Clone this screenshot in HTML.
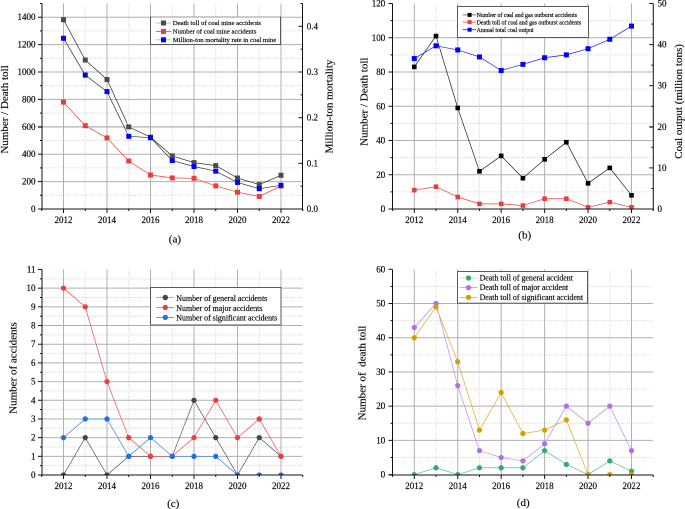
<!DOCTYPE html>
<html><head><meta charset="utf-8"><style>
html,body{margin:0;padding:0;background:#fff;width:685px;height:509px;overflow:hidden}
#c{width:685px;height:509px;overflow:hidden;position:relative}
#w{position:absolute;left:0;top:0;width:1370px;height:1018px;transform:scale(0.5);transform-origin:0 0;will-change:transform}
svg{display:block}
text{font-family:"Liberation Serif", serif;fill:#111;stroke:#111;stroke-width:0.2px}
</style></head><body>
<div id="c"><div id="w"><svg width="1370" height="1018" viewBox="0 0 685 509">
<rect width="685" height="509" fill="#fff"/>

<line x1="43" y1="195.3" x2="302.5" y2="195.3" stroke="#dadada" stroke-width="1" stroke-dasharray="1,1"/>
<line x1="43" y1="167.9" x2="302.5" y2="167.9" stroke="#dadada" stroke-width="1" stroke-dasharray="1,1"/>
<line x1="43" y1="140.5" x2="302.5" y2="140.5" stroke="#dadada" stroke-width="1" stroke-dasharray="1,1"/>
<line x1="43" y1="113.1" x2="302.5" y2="113.1" stroke="#dadada" stroke-width="1" stroke-dasharray="1,1"/>
<line x1="43" y1="85.7" x2="302.5" y2="85.7" stroke="#dadada" stroke-width="1" stroke-dasharray="1,1"/>
<line x1="43" y1="58.3" x2="302.5" y2="58.3" stroke="#dadada" stroke-width="1" stroke-dasharray="1,1"/>
<line x1="43" y1="30.9" x2="302.5" y2="30.9" stroke="#dadada" stroke-width="1" stroke-dasharray="1,1"/>
<line x1="85.25" y1="4" x2="85.25" y2="209" stroke="#dadada" stroke-width="1" stroke-dasharray="1,1"/>
<line x1="128.75" y1="4" x2="128.75" y2="209" stroke="#dadada" stroke-width="1" stroke-dasharray="1,1"/>
<line x1="172.25" y1="4" x2="172.25" y2="209" stroke="#dadada" stroke-width="1" stroke-dasharray="1,1"/>
<line x1="215.75" y1="4" x2="215.75" y2="209" stroke="#dadada" stroke-width="1" stroke-dasharray="1,1"/>
<line x1="259.25" y1="4" x2="259.25" y2="209" stroke="#dadada" stroke-width="1" stroke-dasharray="1,1"/>
<line x1="42" y1="181.6" x2="302.5" y2="181.6" stroke="#b0b0b0" stroke-width="1"/>
<line x1="42" y1="154.2" x2="302.5" y2="154.2" stroke="#b0b0b0" stroke-width="1"/>
<line x1="42" y1="126.8" x2="302.5" y2="126.8" stroke="#b0b0b0" stroke-width="1"/>
<line x1="42" y1="99.4" x2="302.5" y2="99.4" stroke="#b0b0b0" stroke-width="1"/>
<line x1="42" y1="72" x2="302.5" y2="72" stroke="#b0b0b0" stroke-width="1"/>
<line x1="42" y1="44.6" x2="302.5" y2="44.6" stroke="#b0b0b0" stroke-width="1"/>
<line x1="42" y1="17.2" x2="302.5" y2="17.2" stroke="#b0b0b0" stroke-width="1"/>
<line x1="63.5" y1="3.5" x2="63.5" y2="209" stroke="#b0b0b0" stroke-width="1"/>
<line x1="107" y1="3.5" x2="107" y2="209" stroke="#b0b0b0" stroke-width="1"/>
<line x1="150.5" y1="3.5" x2="150.5" y2="209" stroke="#b0b0b0" stroke-width="1"/>
<line x1="194" y1="3.5" x2="194" y2="209" stroke="#b0b0b0" stroke-width="1"/>
<line x1="237.5" y1="3.5" x2="237.5" y2="209" stroke="#b0b0b0" stroke-width="1"/>
<line x1="281" y1="3.5" x2="281" y2="209" stroke="#b0b0b0" stroke-width="1"/>
<clipPath id="ca"><rect x="42" y="-0.5" width="260.5" height="209.5"/></clipPath>
<clipPath id="la"><rect x="42" y="-0.5" width="260.5" height="209"/></clipPath>
<g clip-path="url(#ca)">
<polyline clip-path="url(#la)" points="63.5,19.7 85.25,60 107,79.5 128.75,126.9 150.5,137.2 172.25,155.9 194,162.6 215.75,165.6 237.5,178 259.25,184.6 281,175.3" fill="none" stroke="#333" stroke-width="0.7"/>
<rect x="61" y="17.2" width="5" height="5" fill="#4a4a4a"/>
<rect x="82.75" y="57.5" width="5" height="5" fill="#4a4a4a"/>
<rect x="104.5" y="77" width="5" height="5" fill="#4a4a4a"/>
<rect x="126.25" y="124.4" width="5" height="5" fill="#4a4a4a"/>
<rect x="148" y="134.7" width="5" height="5" fill="#4a4a4a"/>
<rect x="169.75" y="153.4" width="5" height="5" fill="#4a4a4a"/>
<rect x="191.5" y="160.1" width="5" height="5" fill="#4a4a4a"/>
<rect x="213.25" y="163.1" width="5" height="5" fill="#4a4a4a"/>
<rect x="235" y="175.5" width="5" height="5" fill="#4a4a4a"/>
<rect x="256.75" y="182.1" width="5" height="5" fill="#4a4a4a"/>
<rect x="278.5" y="172.8" width="5" height="5" fill="#4a4a4a"/>
<polyline clip-path="url(#la)" points="63.5,102.1 85.25,125.7 107,137.9 128.75,161 150.5,175 172.25,177.9 194,178.3 215.75,185.9 237.5,192.2 259.25,196.5 281,186" fill="none" stroke="#f03c3c" stroke-width="0.7"/>
<rect x="61" y="99.6" width="5" height="5" fill="#ee3b3b"/>
<rect x="82.75" y="123.2" width="5" height="5" fill="#ee3b3b"/>
<rect x="104.5" y="135.4" width="5" height="5" fill="#ee3b3b"/>
<rect x="126.25" y="158.5" width="5" height="5" fill="#ee3b3b"/>
<rect x="148" y="172.5" width="5" height="5" fill="#ee3b3b"/>
<rect x="169.75" y="175.4" width="5" height="5" fill="#ee3b3b"/>
<rect x="191.5" y="175.8" width="5" height="5" fill="#ee3b3b"/>
<rect x="213.25" y="183.4" width="5" height="5" fill="#ee3b3b"/>
<rect x="235" y="189.7" width="5" height="5" fill="#ee3b3b"/>
<rect x="256.75" y="194" width="5" height="5" fill="#ee3b3b"/>
<rect x="278.5" y="183.5" width="5" height="5" fill="#ee3b3b"/>
<polyline clip-path="url(#la)" points="63.5,38.3 85.25,75.1 107,91.6 128.75,136.3 150.5,137.7 172.25,160.6 194,166.5 215.75,171.2 237.5,182.4 259.25,188.7 281,185.3" fill="none" stroke="#333" stroke-width="0.7"/>
<rect x="61" y="35.8" width="5" height="5" fill="#0000ff"/>
<rect x="82.75" y="72.6" width="5" height="5" fill="#0000ff"/>
<rect x="104.5" y="89.1" width="5" height="5" fill="#0000ff"/>
<rect x="126.25" y="133.8" width="5" height="5" fill="#0000ff"/>
<rect x="148" y="135.2" width="5" height="5" fill="#0000ff"/>
<rect x="169.75" y="158.1" width="5" height="5" fill="#0000ff"/>
<rect x="191.5" y="164" width="5" height="5" fill="#0000ff"/>
<rect x="213.25" y="168.7" width="5" height="5" fill="#0000ff"/>
<rect x="235" y="179.9" width="5" height="5" fill="#0000ff"/>
<rect x="256.75" y="186.2" width="5" height="5" fill="#0000ff"/>
<rect x="278.5" y="182.8" width="5" height="5" fill="#0000ff"/>
</g>
<line x1="42" y1="3.5" x2="42" y2="210" stroke="#111" stroke-width="1"/>
<line x1="38" y1="209" x2="302.5" y2="209" stroke="#111" stroke-width="1"/>
<line x1="38" y1="209" x2="42" y2="209" stroke="#111" stroke-width="1"/>
<text x="35.5" y="212" text-anchor="end" font-size="9">0</text>
<line x1="40" y1="195.3" x2="42" y2="195.3" stroke="#111" stroke-width="1"/>
<line x1="38" y1="181.6" x2="42" y2="181.6" stroke="#111" stroke-width="1"/>
<text x="35.5" y="184.6" text-anchor="end" font-size="9">200</text>
<line x1="40" y1="167.9" x2="42" y2="167.9" stroke="#111" stroke-width="1"/>
<line x1="38" y1="154.2" x2="42" y2="154.2" stroke="#111" stroke-width="1"/>
<text x="35.5" y="157.2" text-anchor="end" font-size="9">400</text>
<line x1="40" y1="140.5" x2="42" y2="140.5" stroke="#111" stroke-width="1"/>
<line x1="38" y1="126.8" x2="42" y2="126.8" stroke="#111" stroke-width="1"/>
<text x="35.5" y="129.8" text-anchor="end" font-size="9">600</text>
<line x1="40" y1="113.1" x2="42" y2="113.1" stroke="#111" stroke-width="1"/>
<line x1="38" y1="99.4" x2="42" y2="99.4" stroke="#111" stroke-width="1"/>
<text x="35.5" y="102.4" text-anchor="end" font-size="9">800</text>
<line x1="40" y1="85.7" x2="42" y2="85.7" stroke="#111" stroke-width="1"/>
<line x1="38" y1="72" x2="42" y2="72" stroke="#111" stroke-width="1"/>
<text x="35.5" y="75" text-anchor="end" font-size="9">1000</text>
<line x1="40" y1="58.3" x2="42" y2="58.3" stroke="#111" stroke-width="1"/>
<line x1="38" y1="44.6" x2="42" y2="44.6" stroke="#111" stroke-width="1"/>
<text x="35.5" y="47.6" text-anchor="end" font-size="9">1200</text>
<line x1="40" y1="30.9" x2="42" y2="30.9" stroke="#111" stroke-width="1"/>
<line x1="38" y1="17.2" x2="42" y2="17.2" stroke="#111" stroke-width="1"/>
<text x="35.5" y="20.2" text-anchor="end" font-size="9">1400</text>
<line x1="40" y1="3.5" x2="42" y2="3.5" stroke="#111" stroke-width="1"/>
<line x1="41.75" y1="209" x2="41.75" y2="211" stroke="#111" stroke-width="1"/>
<line x1="63.5" y1="209" x2="63.5" y2="213" stroke="#111" stroke-width="1"/>
<text x="63.5" y="223" text-anchor="middle" font-size="9">2012</text>
<line x1="85.25" y1="209" x2="85.25" y2="211" stroke="#111" stroke-width="1"/>
<line x1="107" y1="209" x2="107" y2="213" stroke="#111" stroke-width="1"/>
<text x="107" y="223" text-anchor="middle" font-size="9">2014</text>
<line x1="128.75" y1="209" x2="128.75" y2="211" stroke="#111" stroke-width="1"/>
<line x1="150.5" y1="209" x2="150.5" y2="213" stroke="#111" stroke-width="1"/>
<text x="150.5" y="223" text-anchor="middle" font-size="9">2016</text>
<line x1="172.25" y1="209" x2="172.25" y2="211" stroke="#111" stroke-width="1"/>
<line x1="194" y1="209" x2="194" y2="213" stroke="#111" stroke-width="1"/>
<text x="194" y="223" text-anchor="middle" font-size="9">2018</text>
<line x1="215.75" y1="209" x2="215.75" y2="211" stroke="#111" stroke-width="1"/>
<line x1="237.5" y1="209" x2="237.5" y2="213" stroke="#111" stroke-width="1"/>
<text x="237.5" y="223" text-anchor="middle" font-size="9">2020</text>
<line x1="259.25" y1="209" x2="259.25" y2="211" stroke="#111" stroke-width="1"/>
<line x1="281" y1="209" x2="281" y2="213" stroke="#111" stroke-width="1"/>
<text x="281" y="223" text-anchor="middle" font-size="9">2022</text>
<line x1="302.75" y1="209" x2="302.75" y2="211" stroke="#111" stroke-width="1"/>
<line x1="302.5" y1="3.5" x2="302.5" y2="210.5" stroke="#111" stroke-width="1"/>
<line x1="298.5" y1="209" x2="302.5" y2="209" stroke="#111" stroke-width="1"/>
<text x="306.8" y="212" font-size="9">0.0</text>
<line x1="300.5" y1="186.17" x2="302.5" y2="186.17" stroke="#111" stroke-width="1"/>
<line x1="298.5" y1="163.33" x2="302.5" y2="163.33" stroke="#111" stroke-width="1"/>
<text x="306.8" y="166.33" font-size="9">0.1</text>
<line x1="300.5" y1="140.5" x2="302.5" y2="140.5" stroke="#111" stroke-width="1"/>
<line x1="298.5" y1="117.67" x2="302.5" y2="117.67" stroke="#111" stroke-width="1"/>
<text x="306.8" y="120.67" font-size="9">0.2</text>
<line x1="300.5" y1="94.83" x2="302.5" y2="94.83" stroke="#111" stroke-width="1"/>
<line x1="298.5" y1="72" x2="302.5" y2="72" stroke="#111" stroke-width="1"/>
<text x="306.8" y="75" font-size="9">0.3</text>
<line x1="300.5" y1="49.17" x2="302.5" y2="49.17" stroke="#111" stroke-width="1"/>
<line x1="298.5" y1="26.33" x2="302.5" y2="26.33" stroke="#111" stroke-width="1"/>
<text x="306.8" y="29.33" font-size="9">0.4</text>
<line x1="300.5" y1="3.5" x2="302.5" y2="3.5" stroke="#111" stroke-width="1"/>
<text transform="translate(332.5,106.5) rotate(-90)" text-anchor="middle" font-size="11">Million-ton mortality</text>
<text transform="translate(7.8,109.5) rotate(-90)" text-anchor="middle" font-size="11" xml:space="preserve">Number / Death toll</text>
<text x="174.9" y="242.4" text-anchor="middle" font-size="11">(a)</text>
<rect x="150.5" y="17" width="130" height="27.5" fill="#fff" stroke="#5a5a5a" stroke-width="1"/>
<line x1="151" y1="17" x2="280" y2="17" stroke="#9a9a9a" stroke-width="1"/>
<line x1="155.9" y1="23" x2="171" y2="23" stroke="#aaa" stroke-width="0.8"/>
<rect x="161" y="20.5" width="5" height="5" fill="#4a4a4a"/>
<text x="172.8" y="25.21" font-size="6.7">Death toll of coal mine accidents</text>
<line x1="155.9" y1="31.4" x2="171" y2="31.4" stroke="#f03c3c" stroke-width="0.8"/>
<rect x="161" y="28.9" width="5" height="5" fill="#ee3b3b"/>
<text x="172.8" y="33.61" font-size="6.7">Number of coal mine accidents</text>
<line x1="155.9" y1="39.8" x2="171" y2="39.8" stroke="#aaa" stroke-width="0.8"/>
<rect x="161" y="37.3" width="5" height="5" fill="#0000ff"/>
<text x="172.8" y="42.01" font-size="6.7">Million-ton mortality rate in coal mine</text>
<line x1="393" y1="191.88" x2="653.3" y2="191.88" stroke="#dadada" stroke-width="1" stroke-dasharray="1,1"/>
<line x1="393" y1="157.62" x2="653.3" y2="157.62" stroke="#dadada" stroke-width="1" stroke-dasharray="1,1"/>
<line x1="393" y1="123.38" x2="653.3" y2="123.38" stroke="#dadada" stroke-width="1" stroke-dasharray="1,1"/>
<line x1="393" y1="89.12" x2="653.3" y2="89.12" stroke="#dadada" stroke-width="1" stroke-dasharray="1,1"/>
<line x1="393" y1="54.88" x2="653.3" y2="54.88" stroke="#dadada" stroke-width="1" stroke-dasharray="1,1"/>
<line x1="393" y1="20.62" x2="653.3" y2="20.62" stroke="#dadada" stroke-width="1" stroke-dasharray="1,1"/>
<line x1="436.02" y1="4" x2="436.02" y2="209" stroke="#dadada" stroke-width="1" stroke-dasharray="1,1"/>
<line x1="479.46" y1="4" x2="479.46" y2="209" stroke="#dadada" stroke-width="1" stroke-dasharray="1,1"/>
<line x1="522.9" y1="4" x2="522.9" y2="209" stroke="#dadada" stroke-width="1" stroke-dasharray="1,1"/>
<line x1="566.34" y1="4" x2="566.34" y2="209" stroke="#dadada" stroke-width="1" stroke-dasharray="1,1"/>
<line x1="609.78" y1="4" x2="609.78" y2="209" stroke="#dadada" stroke-width="1" stroke-dasharray="1,1"/>
<line x1="392.5" y1="174.75" x2="653.3" y2="174.75" stroke="#b0b0b0" stroke-width="1"/>
<line x1="392.5" y1="140.5" x2="653.3" y2="140.5" stroke="#b0b0b0" stroke-width="1"/>
<line x1="392.5" y1="106.25" x2="653.3" y2="106.25" stroke="#b0b0b0" stroke-width="1"/>
<line x1="392.5" y1="72" x2="653.3" y2="72" stroke="#b0b0b0" stroke-width="1"/>
<line x1="392.5" y1="37.75" x2="653.3" y2="37.75" stroke="#b0b0b0" stroke-width="1"/>
<line x1="414.3" y1="3.5" x2="414.3" y2="209" stroke="#b0b0b0" stroke-width="1"/>
<line x1="457.74" y1="3.5" x2="457.74" y2="209" stroke="#b0b0b0" stroke-width="1"/>
<line x1="501.18" y1="3.5" x2="501.18" y2="209" stroke="#b0b0b0" stroke-width="1"/>
<line x1="544.62" y1="3.5" x2="544.62" y2="209" stroke="#b0b0b0" stroke-width="1"/>
<line x1="588.06" y1="3.5" x2="588.06" y2="209" stroke="#b0b0b0" stroke-width="1"/>
<line x1="631.5" y1="3.5" x2="631.5" y2="209" stroke="#b0b0b0" stroke-width="1"/>
<clipPath id="cb"><rect x="392.5" y="-0.5" width="260.8" height="209.5"/></clipPath>
<clipPath id="lb"><rect x="392.5" y="-0.5" width="260.8" height="209"/></clipPath>
<g clip-path="url(#cb)">
<polyline clip-path="url(#lb)" points="414.3,66.86 436.02,36.04 457.74,107.96 479.46,171.32 501.18,155.91 522.9,178.18 544.62,159.34 566.34,142.21 588.06,183.31 609.78,167.9 631.5,195.3" fill="none" stroke="#222" stroke-width="0.7"/>
<rect x="412" y="64.56" width="4.6" height="4.6" fill="#000"/>
<rect x="433.72" y="33.74" width="4.6" height="4.6" fill="#000"/>
<rect x="455.44" y="105.66" width="4.6" height="4.6" fill="#000"/>
<rect x="477.16" y="169.02" width="4.6" height="4.6" fill="#000"/>
<rect x="498.88" y="153.61" width="4.6" height="4.6" fill="#000"/>
<rect x="520.6" y="175.88" width="4.6" height="4.6" fill="#000"/>
<rect x="542.32" y="157.04" width="4.6" height="4.6" fill="#000"/>
<rect x="564.04" y="139.91" width="4.6" height="4.6" fill="#000"/>
<rect x="585.76" y="181.01" width="4.6" height="4.6" fill="#000"/>
<rect x="607.48" y="165.6" width="4.6" height="4.6" fill="#000"/>
<rect x="629.2" y="193" width="4.6" height="4.6" fill="#000"/>
<polyline clip-path="url(#lb)" points="414.3,190.16 436.02,186.74 457.74,197.01 479.46,203.86 501.18,203.86 522.9,205.57 544.62,198.72 566.34,198.72 588.06,207.29 609.78,202.15 631.5,207.29" fill="none" stroke="#f03c3c" stroke-width="0.7"/>
<rect x="412" y="187.86" width="4.6" height="4.6" fill="#ee3b3b"/>
<rect x="433.72" y="184.44" width="4.6" height="4.6" fill="#ee3b3b"/>
<rect x="455.44" y="194.71" width="4.6" height="4.6" fill="#ee3b3b"/>
<rect x="477.16" y="201.56" width="4.6" height="4.6" fill="#ee3b3b"/>
<rect x="498.88" y="201.56" width="4.6" height="4.6" fill="#ee3b3b"/>
<rect x="520.6" y="203.27" width="4.6" height="4.6" fill="#ee3b3b"/>
<rect x="542.32" y="196.42" width="4.6" height="4.6" fill="#ee3b3b"/>
<rect x="564.04" y="196.42" width="4.6" height="4.6" fill="#ee3b3b"/>
<rect x="585.76" y="204.99" width="4.6" height="4.6" fill="#ee3b3b"/>
<rect x="607.48" y="199.85" width="4.6" height="4.6" fill="#ee3b3b"/>
<rect x="629.2" y="204.99" width="4.6" height="4.6" fill="#ee3b3b"/>
<polyline clip-path="url(#lb)" points="414.3,58.57 436.02,45.83 457.74,49.94 479.46,56.93 501.18,70.49 522.9,64.33 544.62,57.75 566.34,54.88 588.06,48.71 609.78,39.26 631.5,26.1" fill="none" stroke="#1a1aff" stroke-width="0.7"/>
<rect x="411.8" y="56.07" width="5" height="5" fill="#0000ff"/>
<rect x="433.52" y="43.33" width="5" height="5" fill="#0000ff"/>
<rect x="455.24" y="47.44" width="5" height="5" fill="#0000ff"/>
<rect x="476.96" y="54.43" width="5" height="5" fill="#0000ff"/>
<rect x="498.68" y="67.99" width="5" height="5" fill="#0000ff"/>
<rect x="520.4" y="61.83" width="5" height="5" fill="#0000ff"/>
<rect x="542.12" y="55.25" width="5" height="5" fill="#0000ff"/>
<rect x="563.84" y="52.38" width="5" height="5" fill="#0000ff"/>
<rect x="585.56" y="46.21" width="5" height="5" fill="#0000ff"/>
<rect x="607.28" y="36.76" width="5" height="5" fill="#0000ff"/>
<rect x="629" y="23.6" width="5" height="5" fill="#0000ff"/>
</g>
<line x1="392.5" y1="3.5" x2="392.5" y2="210" stroke="#111" stroke-width="1"/>
<line x1="388.5" y1="209" x2="653.3" y2="209" stroke="#111" stroke-width="1"/>
<line x1="388.5" y1="209" x2="392.5" y2="209" stroke="#111" stroke-width="1"/>
<text x="385.3" y="212" text-anchor="end" font-size="9">0</text>
<line x1="390.5" y1="191.88" x2="392.5" y2="191.88" stroke="#111" stroke-width="1"/>
<line x1="388.5" y1="174.75" x2="392.5" y2="174.75" stroke="#111" stroke-width="1"/>
<text x="385.3" y="177.75" text-anchor="end" font-size="9">20</text>
<line x1="390.5" y1="157.62" x2="392.5" y2="157.62" stroke="#111" stroke-width="1"/>
<line x1="388.5" y1="140.5" x2="392.5" y2="140.5" stroke="#111" stroke-width="1"/>
<text x="385.3" y="143.5" text-anchor="end" font-size="9">40</text>
<line x1="390.5" y1="123.38" x2="392.5" y2="123.38" stroke="#111" stroke-width="1"/>
<line x1="388.5" y1="106.25" x2="392.5" y2="106.25" stroke="#111" stroke-width="1"/>
<text x="385.3" y="109.25" text-anchor="end" font-size="9">60</text>
<line x1="390.5" y1="89.12" x2="392.5" y2="89.12" stroke="#111" stroke-width="1"/>
<line x1="388.5" y1="72" x2="392.5" y2="72" stroke="#111" stroke-width="1"/>
<text x="385.3" y="75" text-anchor="end" font-size="9">80</text>
<line x1="390.5" y1="54.88" x2="392.5" y2="54.88" stroke="#111" stroke-width="1"/>
<line x1="388.5" y1="37.75" x2="392.5" y2="37.75" stroke="#111" stroke-width="1"/>
<text x="385.3" y="40.75" text-anchor="end" font-size="9">100</text>
<line x1="390.5" y1="20.62" x2="392.5" y2="20.62" stroke="#111" stroke-width="1"/>
<line x1="388.5" y1="3.5" x2="392.5" y2="3.5" stroke="#111" stroke-width="1"/>
<text x="385.3" y="6.5" text-anchor="end" font-size="9">120</text>
<line x1="392.58" y1="209" x2="392.58" y2="211" stroke="#111" stroke-width="1"/>
<line x1="414.3" y1="209" x2="414.3" y2="213" stroke="#111" stroke-width="1"/>
<text x="414.3" y="223" text-anchor="middle" font-size="9">2012</text>
<line x1="436.02" y1="209" x2="436.02" y2="211" stroke="#111" stroke-width="1"/>
<line x1="457.74" y1="209" x2="457.74" y2="213" stroke="#111" stroke-width="1"/>
<text x="457.74" y="223" text-anchor="middle" font-size="9">2014</text>
<line x1="479.46" y1="209" x2="479.46" y2="211" stroke="#111" stroke-width="1"/>
<line x1="501.18" y1="209" x2="501.18" y2="213" stroke="#111" stroke-width="1"/>
<text x="501.18" y="223" text-anchor="middle" font-size="9">2016</text>
<line x1="522.9" y1="209" x2="522.9" y2="211" stroke="#111" stroke-width="1"/>
<line x1="544.62" y1="209" x2="544.62" y2="213" stroke="#111" stroke-width="1"/>
<text x="544.62" y="223" text-anchor="middle" font-size="9">2018</text>
<line x1="566.34" y1="209" x2="566.34" y2="211" stroke="#111" stroke-width="1"/>
<line x1="588.06" y1="209" x2="588.06" y2="213" stroke="#111" stroke-width="1"/>
<text x="588.06" y="223" text-anchor="middle" font-size="9">2020</text>
<line x1="609.78" y1="209" x2="609.78" y2="211" stroke="#111" stroke-width="1"/>
<line x1="631.5" y1="209" x2="631.5" y2="213" stroke="#111" stroke-width="1"/>
<text x="631.5" y="223" text-anchor="middle" font-size="9">2022</text>
<line x1="653.22" y1="209" x2="653.22" y2="211" stroke="#111" stroke-width="1"/>
<line x1="653.3" y1="3.5" x2="653.3" y2="210.5" stroke="#111" stroke-width="1"/>
<line x1="649.3" y1="209" x2="653.3" y2="209" stroke="#111" stroke-width="1"/>
<text x="657.5" y="212" font-size="9">0</text>
<line x1="651.3" y1="188.45" x2="653.3" y2="188.45" stroke="#111" stroke-width="1"/>
<line x1="649.3" y1="167.9" x2="653.3" y2="167.9" stroke="#111" stroke-width="1"/>
<text x="657.5" y="170.9" font-size="9">10</text>
<line x1="651.3" y1="147.35" x2="653.3" y2="147.35" stroke="#111" stroke-width="1"/>
<line x1="649.3" y1="126.8" x2="653.3" y2="126.8" stroke="#111" stroke-width="1"/>
<text x="657.5" y="129.8" font-size="9">20</text>
<line x1="651.3" y1="106.25" x2="653.3" y2="106.25" stroke="#111" stroke-width="1"/>
<line x1="649.3" y1="85.7" x2="653.3" y2="85.7" stroke="#111" stroke-width="1"/>
<text x="657.5" y="88.7" font-size="9">30</text>
<line x1="651.3" y1="65.15" x2="653.3" y2="65.15" stroke="#111" stroke-width="1"/>
<line x1="649.3" y1="44.6" x2="653.3" y2="44.6" stroke="#111" stroke-width="1"/>
<text x="657.5" y="47.6" font-size="9">40</text>
<line x1="651.3" y1="24.05" x2="653.3" y2="24.05" stroke="#111" stroke-width="1"/>
<line x1="649.3" y1="3.5" x2="653.3" y2="3.5" stroke="#111" stroke-width="1"/>
<text x="657.5" y="6.5" font-size="9">50</text>
<text transform="translate(682,101.4) rotate(-90)" text-anchor="middle" font-size="11">Coal output (million tons)</text>
<text transform="translate(367.7,101.7) rotate(-90)" text-anchor="middle" font-size="11" xml:space="preserve">Number / Death toll</text>
<text x="524.7" y="238.5" text-anchor="middle" font-size="11">(b)</text>
<rect x="457.5" y="6.5" width="131" height="31" fill="#fff" stroke="#5a5a5a" stroke-width="1"/>
<line x1="462.8" y1="14.9" x2="476.2" y2="14.9" stroke="#555" stroke-width="0.8"/>
<rect x="467.6" y="12.9" width="4" height="4" fill="#000"/>
<text x="476.6" y="17.15" font-size="5.9">Number of coal and gas outburst accidents</text>
<line x1="462.8" y1="22.1" x2="476.2" y2="22.1" stroke="#f03c3c" stroke-width="0.8"/>
<rect x="467.6" y="20.1" width="4" height="4" fill="#ee3b3b"/>
<text x="476.6" y="24.35" font-size="5.9">Death toll of coal and gas outburst accidents</text>
<line x1="462.8" y1="29.7" x2="476.2" y2="29.7" stroke="#1a1aff" stroke-width="0.8"/>
<rect x="467.6" y="27.7" width="4" height="4" fill="#0000ff"/>
<text x="476.6" y="31.95" font-size="5.9">Annual total coal output</text>
<line x1="43" y1="465.66" x2="302.5" y2="465.66" stroke="#dadada" stroke-width="1" stroke-dasharray="1,1"/>
<line x1="43" y1="446.98" x2="302.5" y2="446.98" stroke="#dadada" stroke-width="1" stroke-dasharray="1,1"/>
<line x1="43" y1="428.3" x2="302.5" y2="428.3" stroke="#dadada" stroke-width="1" stroke-dasharray="1,1"/>
<line x1="43" y1="409.61" x2="302.5" y2="409.61" stroke="#dadada" stroke-width="1" stroke-dasharray="1,1"/>
<line x1="43" y1="390.93" x2="302.5" y2="390.93" stroke="#dadada" stroke-width="1" stroke-dasharray="1,1"/>
<line x1="43" y1="372.25" x2="302.5" y2="372.25" stroke="#dadada" stroke-width="1" stroke-dasharray="1,1"/>
<line x1="43" y1="353.57" x2="302.5" y2="353.57" stroke="#dadada" stroke-width="1" stroke-dasharray="1,1"/>
<line x1="43" y1="334.89" x2="302.5" y2="334.89" stroke="#dadada" stroke-width="1" stroke-dasharray="1,1"/>
<line x1="43" y1="316.2" x2="302.5" y2="316.2" stroke="#dadada" stroke-width="1" stroke-dasharray="1,1"/>
<line x1="43" y1="297.52" x2="302.5" y2="297.52" stroke="#dadada" stroke-width="1" stroke-dasharray="1,1"/>
<line x1="43" y1="278.84" x2="302.5" y2="278.84" stroke="#dadada" stroke-width="1" stroke-dasharray="1,1"/>
<line x1="85.25" y1="270" x2="85.25" y2="475" stroke="#dadada" stroke-width="1" stroke-dasharray="1,1"/>
<line x1="128.75" y1="270" x2="128.75" y2="475" stroke="#dadada" stroke-width="1" stroke-dasharray="1,1"/>
<line x1="172.25" y1="270" x2="172.25" y2="475" stroke="#dadada" stroke-width="1" stroke-dasharray="1,1"/>
<line x1="215.75" y1="270" x2="215.75" y2="475" stroke="#dadada" stroke-width="1" stroke-dasharray="1,1"/>
<line x1="259.25" y1="270" x2="259.25" y2="475" stroke="#dadada" stroke-width="1" stroke-dasharray="1,1"/>
<line x1="42" y1="456.32" x2="302.5" y2="456.32" stroke="#b0b0b0" stroke-width="1"/>
<line x1="42" y1="437.64" x2="302.5" y2="437.64" stroke="#b0b0b0" stroke-width="1"/>
<line x1="42" y1="418.95" x2="302.5" y2="418.95" stroke="#b0b0b0" stroke-width="1"/>
<line x1="42" y1="400.27" x2="302.5" y2="400.27" stroke="#b0b0b0" stroke-width="1"/>
<line x1="42" y1="381.59" x2="302.5" y2="381.59" stroke="#b0b0b0" stroke-width="1"/>
<line x1="42" y1="362.91" x2="302.5" y2="362.91" stroke="#b0b0b0" stroke-width="1"/>
<line x1="42" y1="344.23" x2="302.5" y2="344.23" stroke="#b0b0b0" stroke-width="1"/>
<line x1="42" y1="325.55" x2="302.5" y2="325.55" stroke="#b0b0b0" stroke-width="1"/>
<line x1="42" y1="306.86" x2="302.5" y2="306.86" stroke="#b0b0b0" stroke-width="1"/>
<line x1="42" y1="288.18" x2="302.5" y2="288.18" stroke="#b0b0b0" stroke-width="1"/>
<line x1="63.5" y1="269.5" x2="63.5" y2="475" stroke="#b0b0b0" stroke-width="1"/>
<line x1="107" y1="269.5" x2="107" y2="475" stroke="#b0b0b0" stroke-width="1"/>
<line x1="150.5" y1="269.5" x2="150.5" y2="475" stroke="#b0b0b0" stroke-width="1"/>
<line x1="194" y1="269.5" x2="194" y2="475" stroke="#b0b0b0" stroke-width="1"/>
<line x1="237.5" y1="269.5" x2="237.5" y2="475" stroke="#b0b0b0" stroke-width="1"/>
<line x1="281" y1="269.5" x2="281" y2="475" stroke="#b0b0b0" stroke-width="1"/>
<clipPath id="cc"><rect x="42" y="265.5" width="260.5" height="209.5"/></clipPath>
<clipPath id="lc"><rect x="42" y="265.5" width="260.5" height="209"/></clipPath>
<g clip-path="url(#cc)">
<polyline clip-path="url(#lc)" points="63.5,475 85.25,437.64 107,475 128.75,456.32 150.5,456.32 172.25,456.32 194,400.27 215.75,437.64 237.5,475 259.25,437.64 281,456.32" fill="none" stroke="#555" stroke-width="0.7"/>
<circle cx="63.5" cy="475" r="2.65" fill="#454545"/>
<circle cx="85.25" cy="437.64" r="2.65" fill="#454545"/>
<circle cx="107" cy="475" r="2.65" fill="#454545"/>
<circle cx="128.75" cy="456.32" r="2.65" fill="#454545"/>
<circle cx="150.5" cy="456.32" r="2.65" fill="#454545"/>
<circle cx="172.25" cy="456.32" r="2.65" fill="#454545"/>
<circle cx="194" cy="400.27" r="2.65" fill="#454545"/>
<circle cx="215.75" cy="437.64" r="2.65" fill="#454545"/>
<circle cx="237.5" cy="475" r="2.65" fill="#454545"/>
<circle cx="259.25" cy="437.64" r="2.65" fill="#454545"/>
<circle cx="281" cy="456.32" r="2.65" fill="#454545"/>
<polyline clip-path="url(#lc)" points="63.5,288.18 85.25,306.86 107,381.59 128.75,437.64 150.5,456.32 172.25,456.32 194,437.64 215.75,400.27 237.5,437.64 259.25,418.95 281,456.32" fill="none" stroke="#f25050" stroke-width="0.7"/>
<circle cx="63.5" cy="288.18" r="2.65" fill="#ef3e3e"/>
<circle cx="85.25" cy="306.86" r="2.65" fill="#ef3e3e"/>
<circle cx="107" cy="381.59" r="2.65" fill="#ef3e3e"/>
<circle cx="128.75" cy="437.64" r="2.65" fill="#ef3e3e"/>
<circle cx="150.5" cy="456.32" r="2.65" fill="#ef3e3e"/>
<circle cx="172.25" cy="456.32" r="2.65" fill="#ef3e3e"/>
<circle cx="194" cy="437.64" r="2.65" fill="#ef3e3e"/>
<circle cx="215.75" cy="400.27" r="2.65" fill="#ef3e3e"/>
<circle cx="237.5" cy="437.64" r="2.65" fill="#ef3e3e"/>
<circle cx="259.25" cy="418.95" r="2.65" fill="#ef3e3e"/>
<circle cx="281" cy="456.32" r="2.65" fill="#ef3e3e"/>
<polyline clip-path="url(#lc)" points="63.5,437.64 85.25,418.95 107,418.95 128.75,456.32 150.5,437.64 172.25,456.32 194,456.32 215.75,456.32 237.5,475 259.25,475 281,475" fill="none" stroke="#3a82ea" stroke-width="0.7"/>
<circle cx="63.5" cy="437.64" r="2.65" fill="#1f6fe6"/>
<circle cx="85.25" cy="418.95" r="2.65" fill="#1f6fe6"/>
<circle cx="107" cy="418.95" r="2.65" fill="#1f6fe6"/>
<circle cx="128.75" cy="456.32" r="2.65" fill="#1f6fe6"/>
<circle cx="150.5" cy="437.64" r="2.65" fill="#1f6fe6"/>
<circle cx="172.25" cy="456.32" r="2.65" fill="#1f6fe6"/>
<circle cx="194" cy="456.32" r="2.65" fill="#1f6fe6"/>
<circle cx="215.75" cy="456.32" r="2.65" fill="#1f6fe6"/>
<circle cx="237.5" cy="475" r="2.65" fill="#1f6fe6"/>
<circle cx="259.25" cy="475" r="2.65" fill="#1f6fe6"/>
<circle cx="281" cy="475" r="2.65" fill="#1f6fe6"/>
</g>
<line x1="42" y1="269.5" x2="42" y2="476" stroke="#111" stroke-width="1"/>
<line x1="38" y1="475" x2="302.5" y2="475" stroke="#111" stroke-width="1"/>
<line x1="38" y1="475" x2="42" y2="475" stroke="#111" stroke-width="1"/>
<text x="35.5" y="478" text-anchor="end" font-size="9">0</text>
<line x1="40" y1="465.66" x2="42" y2="465.66" stroke="#111" stroke-width="1"/>
<line x1="38" y1="456.32" x2="42" y2="456.32" stroke="#111" stroke-width="1"/>
<text x="35.5" y="459.32" text-anchor="end" font-size="9">1</text>
<line x1="40" y1="446.98" x2="42" y2="446.98" stroke="#111" stroke-width="1"/>
<line x1="38" y1="437.64" x2="42" y2="437.64" stroke="#111" stroke-width="1"/>
<text x="35.5" y="440.64" text-anchor="end" font-size="9">2</text>
<line x1="40" y1="428.3" x2="42" y2="428.3" stroke="#111" stroke-width="1"/>
<line x1="38" y1="418.95" x2="42" y2="418.95" stroke="#111" stroke-width="1"/>
<text x="35.5" y="421.95" text-anchor="end" font-size="9">3</text>
<line x1="40" y1="409.61" x2="42" y2="409.61" stroke="#111" stroke-width="1"/>
<line x1="38" y1="400.27" x2="42" y2="400.27" stroke="#111" stroke-width="1"/>
<text x="35.5" y="403.27" text-anchor="end" font-size="9">4</text>
<line x1="40" y1="390.93" x2="42" y2="390.93" stroke="#111" stroke-width="1"/>
<line x1="38" y1="381.59" x2="42" y2="381.59" stroke="#111" stroke-width="1"/>
<text x="35.5" y="384.59" text-anchor="end" font-size="9">5</text>
<line x1="40" y1="372.25" x2="42" y2="372.25" stroke="#111" stroke-width="1"/>
<line x1="38" y1="362.91" x2="42" y2="362.91" stroke="#111" stroke-width="1"/>
<text x="35.5" y="365.91" text-anchor="end" font-size="9">6</text>
<line x1="40" y1="353.57" x2="42" y2="353.57" stroke="#111" stroke-width="1"/>
<line x1="38" y1="344.23" x2="42" y2="344.23" stroke="#111" stroke-width="1"/>
<text x="35.5" y="347.23" text-anchor="end" font-size="9">7</text>
<line x1="40" y1="334.89" x2="42" y2="334.89" stroke="#111" stroke-width="1"/>
<line x1="38" y1="325.55" x2="42" y2="325.55" stroke="#111" stroke-width="1"/>
<text x="35.5" y="328.55" text-anchor="end" font-size="9">8</text>
<line x1="40" y1="316.2" x2="42" y2="316.2" stroke="#111" stroke-width="1"/>
<line x1="38" y1="306.86" x2="42" y2="306.86" stroke="#111" stroke-width="1"/>
<text x="35.5" y="309.86" text-anchor="end" font-size="9">9</text>
<line x1="40" y1="297.52" x2="42" y2="297.52" stroke="#111" stroke-width="1"/>
<line x1="38" y1="288.18" x2="42" y2="288.18" stroke="#111" stroke-width="1"/>
<text x="35.5" y="291.18" text-anchor="end" font-size="9">10</text>
<line x1="40" y1="278.84" x2="42" y2="278.84" stroke="#111" stroke-width="1"/>
<line x1="38" y1="269.5" x2="42" y2="269.5" stroke="#111" stroke-width="1"/>
<text x="35.5" y="272.5" text-anchor="end" font-size="9">11</text>
<line x1="41.75" y1="475" x2="41.75" y2="477" stroke="#111" stroke-width="1"/>
<line x1="63.5" y1="475" x2="63.5" y2="479" stroke="#111" stroke-width="1"/>
<text x="63.5" y="488.8" text-anchor="middle" font-size="9">2012</text>
<line x1="85.25" y1="475" x2="85.25" y2="477" stroke="#111" stroke-width="1"/>
<line x1="107" y1="475" x2="107" y2="479" stroke="#111" stroke-width="1"/>
<text x="107" y="488.8" text-anchor="middle" font-size="9">2014</text>
<line x1="128.75" y1="475" x2="128.75" y2="477" stroke="#111" stroke-width="1"/>
<line x1="150.5" y1="475" x2="150.5" y2="479" stroke="#111" stroke-width="1"/>
<text x="150.5" y="488.8" text-anchor="middle" font-size="9">2016</text>
<line x1="172.25" y1="475" x2="172.25" y2="477" stroke="#111" stroke-width="1"/>
<line x1="194" y1="475" x2="194" y2="479" stroke="#111" stroke-width="1"/>
<text x="194" y="488.8" text-anchor="middle" font-size="9">2018</text>
<line x1="215.75" y1="475" x2="215.75" y2="477" stroke="#111" stroke-width="1"/>
<line x1="237.5" y1="475" x2="237.5" y2="479" stroke="#111" stroke-width="1"/>
<text x="237.5" y="488.8" text-anchor="middle" font-size="9">2020</text>
<line x1="259.25" y1="475" x2="259.25" y2="477" stroke="#111" stroke-width="1"/>
<line x1="281" y1="475" x2="281" y2="479" stroke="#111" stroke-width="1"/>
<text x="281" y="488.8" text-anchor="middle" font-size="9">2022</text>
<line x1="302.75" y1="475" x2="302.75" y2="477" stroke="#111" stroke-width="1"/>
<text transform="translate(16.7,368) rotate(-90)" text-anchor="middle" font-size="11" xml:space="preserve">Number of accidents</text>
<text x="173.2" y="506.8" text-anchor="middle" font-size="11">(c)</text>
<rect x="150.5" y="287.5" width="130.5" height="37.5" fill="#fff" stroke="#5a5a5a" stroke-width="1"/>
<line x1="156" y1="297.5" x2="174.4" y2="297.5" stroke="#999" stroke-width="0.8"/>
<circle cx="165.3" cy="297.5" r="2.7" fill="#454545"/>
<text x="176.3" y="300.81" font-size="7.9">Number of general accidents</text>
<line x1="156" y1="307.5" x2="174.4" y2="307.5" stroke="#f25050" stroke-width="0.8"/>
<circle cx="165.3" cy="307.5" r="2.7" fill="#ef3e3e"/>
<text x="176.3" y="310.81" font-size="7.9">Number of major accidents</text>
<line x1="156" y1="317.4" x2="174.4" y2="317.4" stroke="#3a82ea" stroke-width="0.8"/>
<circle cx="165.3" cy="317.4" r="2.7" fill="#1f6fe6"/>
<text x="176.3" y="320.71" font-size="7.9">Number of significant accidents</text>
<line x1="393" y1="457.49" x2="653" y2="457.49" stroke="#dadada" stroke-width="1" stroke-dasharray="1,1"/>
<line x1="393" y1="423.28" x2="653" y2="423.28" stroke="#dadada" stroke-width="1" stroke-dasharray="1,1"/>
<line x1="393" y1="389.06" x2="653" y2="389.06" stroke="#dadada" stroke-width="1" stroke-dasharray="1,1"/>
<line x1="393" y1="354.84" x2="653" y2="354.84" stroke="#dadada" stroke-width="1" stroke-dasharray="1,1"/>
<line x1="393" y1="320.62" x2="653" y2="320.62" stroke="#dadada" stroke-width="1" stroke-dasharray="1,1"/>
<line x1="393" y1="286.41" x2="653" y2="286.41" stroke="#dadada" stroke-width="1" stroke-dasharray="1,1"/>
<line x1="436.02" y1="270" x2="436.02" y2="475" stroke="#dadada" stroke-width="1" stroke-dasharray="1,1"/>
<line x1="479.46" y1="270" x2="479.46" y2="475" stroke="#dadada" stroke-width="1" stroke-dasharray="1,1"/>
<line x1="522.9" y1="270" x2="522.9" y2="475" stroke="#dadada" stroke-width="1" stroke-dasharray="1,1"/>
<line x1="566.34" y1="270" x2="566.34" y2="475" stroke="#dadada" stroke-width="1" stroke-dasharray="1,1"/>
<line x1="609.78" y1="270" x2="609.78" y2="475" stroke="#dadada" stroke-width="1" stroke-dasharray="1,1"/>
<line x1="392.5" y1="440.38" x2="653" y2="440.38" stroke="#b0b0b0" stroke-width="1"/>
<line x1="392.5" y1="406.17" x2="653" y2="406.17" stroke="#b0b0b0" stroke-width="1"/>
<line x1="392.5" y1="371.95" x2="653" y2="371.95" stroke="#b0b0b0" stroke-width="1"/>
<line x1="392.5" y1="337.73" x2="653" y2="337.73" stroke="#b0b0b0" stroke-width="1"/>
<line x1="392.5" y1="303.52" x2="653" y2="303.52" stroke="#b0b0b0" stroke-width="1"/>
<line x1="414.3" y1="269.5" x2="414.3" y2="475" stroke="#b0b0b0" stroke-width="1"/>
<line x1="457.74" y1="269.5" x2="457.74" y2="475" stroke="#b0b0b0" stroke-width="1"/>
<line x1="501.18" y1="269.5" x2="501.18" y2="475" stroke="#b0b0b0" stroke-width="1"/>
<line x1="544.62" y1="269.5" x2="544.62" y2="475" stroke="#b0b0b0" stroke-width="1"/>
<line x1="588.06" y1="269.5" x2="588.06" y2="475" stroke="#b0b0b0" stroke-width="1"/>
<line x1="631.5" y1="269.5" x2="631.5" y2="475" stroke="#b0b0b0" stroke-width="1"/>
<clipPath id="cd"><rect x="392.5" y="265.5" width="260.5" height="209.3"/></clipPath>
<clipPath id="ld"><rect x="392.5" y="265.5" width="260.5" height="208.65"/></clipPath>
<g clip-path="url(#cd)">
<polyline clip-path="url(#ld)" points="414.3,474.6 436.02,467.76 457.74,474.6 479.46,467.76 501.18,467.76 522.9,467.76 544.62,450.65 566.34,464.34 588.06,474.6 609.78,460.91 631.5,471.18" fill="none" stroke="#5cc48e" stroke-width="0.7"/>
<circle cx="414.3" cy="474.6" r="2.65" fill="#2fae6a"/>
<circle cx="436.02" cy="467.76" r="2.65" fill="#2fae6a"/>
<circle cx="457.74" cy="474.6" r="2.65" fill="#2fae6a"/>
<circle cx="479.46" cy="467.76" r="2.65" fill="#2fae6a"/>
<circle cx="501.18" cy="467.76" r="2.65" fill="#2fae6a"/>
<circle cx="522.9" cy="467.76" r="2.65" fill="#2fae6a"/>
<circle cx="544.62" cy="450.65" r="2.65" fill="#2fae6a"/>
<circle cx="566.34" cy="464.34" r="2.65" fill="#2fae6a"/>
<circle cx="588.06" cy="474.6" r="2.65" fill="#2fae6a"/>
<circle cx="609.78" cy="460.91" r="2.65" fill="#2fae6a"/>
<circle cx="631.5" cy="471.18" r="2.65" fill="#2fae6a"/>
<polyline clip-path="url(#ld)" points="414.3,327.47 436.02,303.52 457.74,385.64 479.46,450.65 501.18,457.49 522.9,460.91 544.62,443.81 566.34,406.17 588.06,423.28 609.78,406.17 631.5,450.65" fill="none" stroke="#c08af0" stroke-width="0.7"/>
<circle cx="414.3" cy="327.47" r="2.65" fill="#b070e6"/>
<circle cx="436.02" cy="303.52" r="2.65" fill="#b070e6"/>
<circle cx="457.74" cy="385.64" r="2.65" fill="#b070e6"/>
<circle cx="479.46" cy="450.65" r="2.65" fill="#b070e6"/>
<circle cx="501.18" cy="457.49" r="2.65" fill="#b070e6"/>
<circle cx="522.9" cy="460.91" r="2.65" fill="#b070e6"/>
<circle cx="544.62" cy="443.81" r="2.65" fill="#b070e6"/>
<circle cx="566.34" cy="406.17" r="2.65" fill="#b070e6"/>
<circle cx="588.06" cy="423.28" r="2.65" fill="#b070e6"/>
<circle cx="609.78" cy="406.17" r="2.65" fill="#b070e6"/>
<circle cx="631.5" cy="450.65" r="2.65" fill="#b070e6"/>
<polyline clip-path="url(#ld)" points="414.3,337.73 436.02,306.94 457.74,361.69 479.46,430.12 501.18,392.48 522.9,433.54 544.62,430.12 566.34,419.85 588.06,474.6 609.78,474.6 631.5,474.6" fill="none" stroke="#ddaa22" stroke-width="0.7"/>
<circle cx="414.3" cy="337.73" r="2.65" fill="#d4a000"/>
<circle cx="436.02" cy="306.94" r="2.65" fill="#d4a000"/>
<circle cx="457.74" cy="361.69" r="2.65" fill="#d4a000"/>
<circle cx="479.46" cy="430.12" r="2.65" fill="#d4a000"/>
<circle cx="501.18" cy="392.48" r="2.65" fill="#d4a000"/>
<circle cx="522.9" cy="433.54" r="2.65" fill="#d4a000"/>
<circle cx="544.62" cy="430.12" r="2.65" fill="#d4a000"/>
<circle cx="566.34" cy="419.85" r="2.65" fill="#d4a000"/>
<circle cx="588.06" cy="474.6" r="2.65" fill="#d4a000"/>
<circle cx="609.78" cy="474.6" r="2.65" fill="#d4a000"/>
<circle cx="631.5" cy="474.6" r="2.65" fill="#d4a000"/>
</g>
<line x1="392.5" y1="269.5" x2="392.5" y2="476" stroke="#111" stroke-width="1"/>
<line x1="388.5" y1="475" x2="653" y2="475" stroke="#111" stroke-width="1"/>
<line x1="388.5" y1="474.6" x2="392.5" y2="474.6" stroke="#111" stroke-width="1"/>
<text x="385.3" y="477.6" text-anchor="end" font-size="9">0</text>
<line x1="390.5" y1="457.49" x2="392.5" y2="457.49" stroke="#111" stroke-width="1"/>
<line x1="388.5" y1="440.38" x2="392.5" y2="440.38" stroke="#111" stroke-width="1"/>
<text x="385.3" y="443.38" text-anchor="end" font-size="9">10</text>
<line x1="390.5" y1="423.28" x2="392.5" y2="423.28" stroke="#111" stroke-width="1"/>
<line x1="388.5" y1="406.17" x2="392.5" y2="406.17" stroke="#111" stroke-width="1"/>
<text x="385.3" y="409.17" text-anchor="end" font-size="9">20</text>
<line x1="390.5" y1="389.06" x2="392.5" y2="389.06" stroke="#111" stroke-width="1"/>
<line x1="388.5" y1="371.95" x2="392.5" y2="371.95" stroke="#111" stroke-width="1"/>
<text x="385.3" y="374.95" text-anchor="end" font-size="9">30</text>
<line x1="390.5" y1="354.84" x2="392.5" y2="354.84" stroke="#111" stroke-width="1"/>
<line x1="388.5" y1="337.73" x2="392.5" y2="337.73" stroke="#111" stroke-width="1"/>
<text x="385.3" y="340.73" text-anchor="end" font-size="9">40</text>
<line x1="390.5" y1="320.62" x2="392.5" y2="320.62" stroke="#111" stroke-width="1"/>
<line x1="388.5" y1="303.52" x2="392.5" y2="303.52" stroke="#111" stroke-width="1"/>
<text x="385.3" y="306.52" text-anchor="end" font-size="9">50</text>
<line x1="390.5" y1="286.41" x2="392.5" y2="286.41" stroke="#111" stroke-width="1"/>
<line x1="388.5" y1="269.3" x2="392.5" y2="269.3" stroke="#111" stroke-width="1"/>
<text x="385.3" y="272.3" text-anchor="end" font-size="9">60</text>
<line x1="392.58" y1="475" x2="392.58" y2="477" stroke="#111" stroke-width="1"/>
<line x1="414.3" y1="475" x2="414.3" y2="479" stroke="#111" stroke-width="1"/>
<text x="414.3" y="488.8" text-anchor="middle" font-size="9">2012</text>
<line x1="436.02" y1="475" x2="436.02" y2="477" stroke="#111" stroke-width="1"/>
<line x1="457.74" y1="475" x2="457.74" y2="479" stroke="#111" stroke-width="1"/>
<text x="457.74" y="488.8" text-anchor="middle" font-size="9">2014</text>
<line x1="479.46" y1="475" x2="479.46" y2="477" stroke="#111" stroke-width="1"/>
<line x1="501.18" y1="475" x2="501.18" y2="479" stroke="#111" stroke-width="1"/>
<text x="501.18" y="488.8" text-anchor="middle" font-size="9">2016</text>
<line x1="522.9" y1="475" x2="522.9" y2="477" stroke="#111" stroke-width="1"/>
<line x1="544.62" y1="475" x2="544.62" y2="479" stroke="#111" stroke-width="1"/>
<text x="544.62" y="488.8" text-anchor="middle" font-size="9">2018</text>
<line x1="566.34" y1="475" x2="566.34" y2="477" stroke="#111" stroke-width="1"/>
<line x1="588.06" y1="475" x2="588.06" y2="479" stroke="#111" stroke-width="1"/>
<text x="588.06" y="488.8" text-anchor="middle" font-size="9">2020</text>
<line x1="609.78" y1="475" x2="609.78" y2="477" stroke="#111" stroke-width="1"/>
<line x1="631.5" y1="475" x2="631.5" y2="479" stroke="#111" stroke-width="1"/>
<text x="631.5" y="488.8" text-anchor="middle" font-size="9">2022</text>
<line x1="653.22" y1="475" x2="653.22" y2="477" stroke="#111" stroke-width="1"/>
<text transform="translate(365.4,373) rotate(-90)" text-anchor="middle" font-size="11" xml:space="preserve">Number of  death toll</text>
<text x="523.2" y="505.8" text-anchor="middle" font-size="11">(d)</text>
<rect x="457.5" y="271.5" width="130" height="31.7" fill="#fff" stroke="#5a5a5a" stroke-width="1"/>
<line x1="459.4" y1="278" x2="477.6" y2="278" stroke="#a8e0c4" stroke-width="0.8"/>
<circle cx="468.5" cy="278" r="2.65" fill="#2fae6a"/>
<text x="479.6" y="280.61" font-size="7.9">Death toll of general accident</text>
<line x1="459.4" y1="287.6" x2="477.6" y2="287.6" stroke="#c08af0" stroke-width="0.8"/>
<circle cx="468.5" cy="287.6" r="2.65" fill="#b070e6"/>
<text x="479.6" y="290.21" font-size="7.9">Death toll of major accident</text>
<line x1="459.4" y1="297.4" x2="477.6" y2="297.4" stroke="#ddaa22" stroke-width="0.8"/>
<circle cx="468.5" cy="297.4" r="2.65" fill="#d4a000"/>
<text x="479.6" y="300.01" font-size="7.9">Death toll of significant accident</text>
</svg></div></div>
</body></html>
